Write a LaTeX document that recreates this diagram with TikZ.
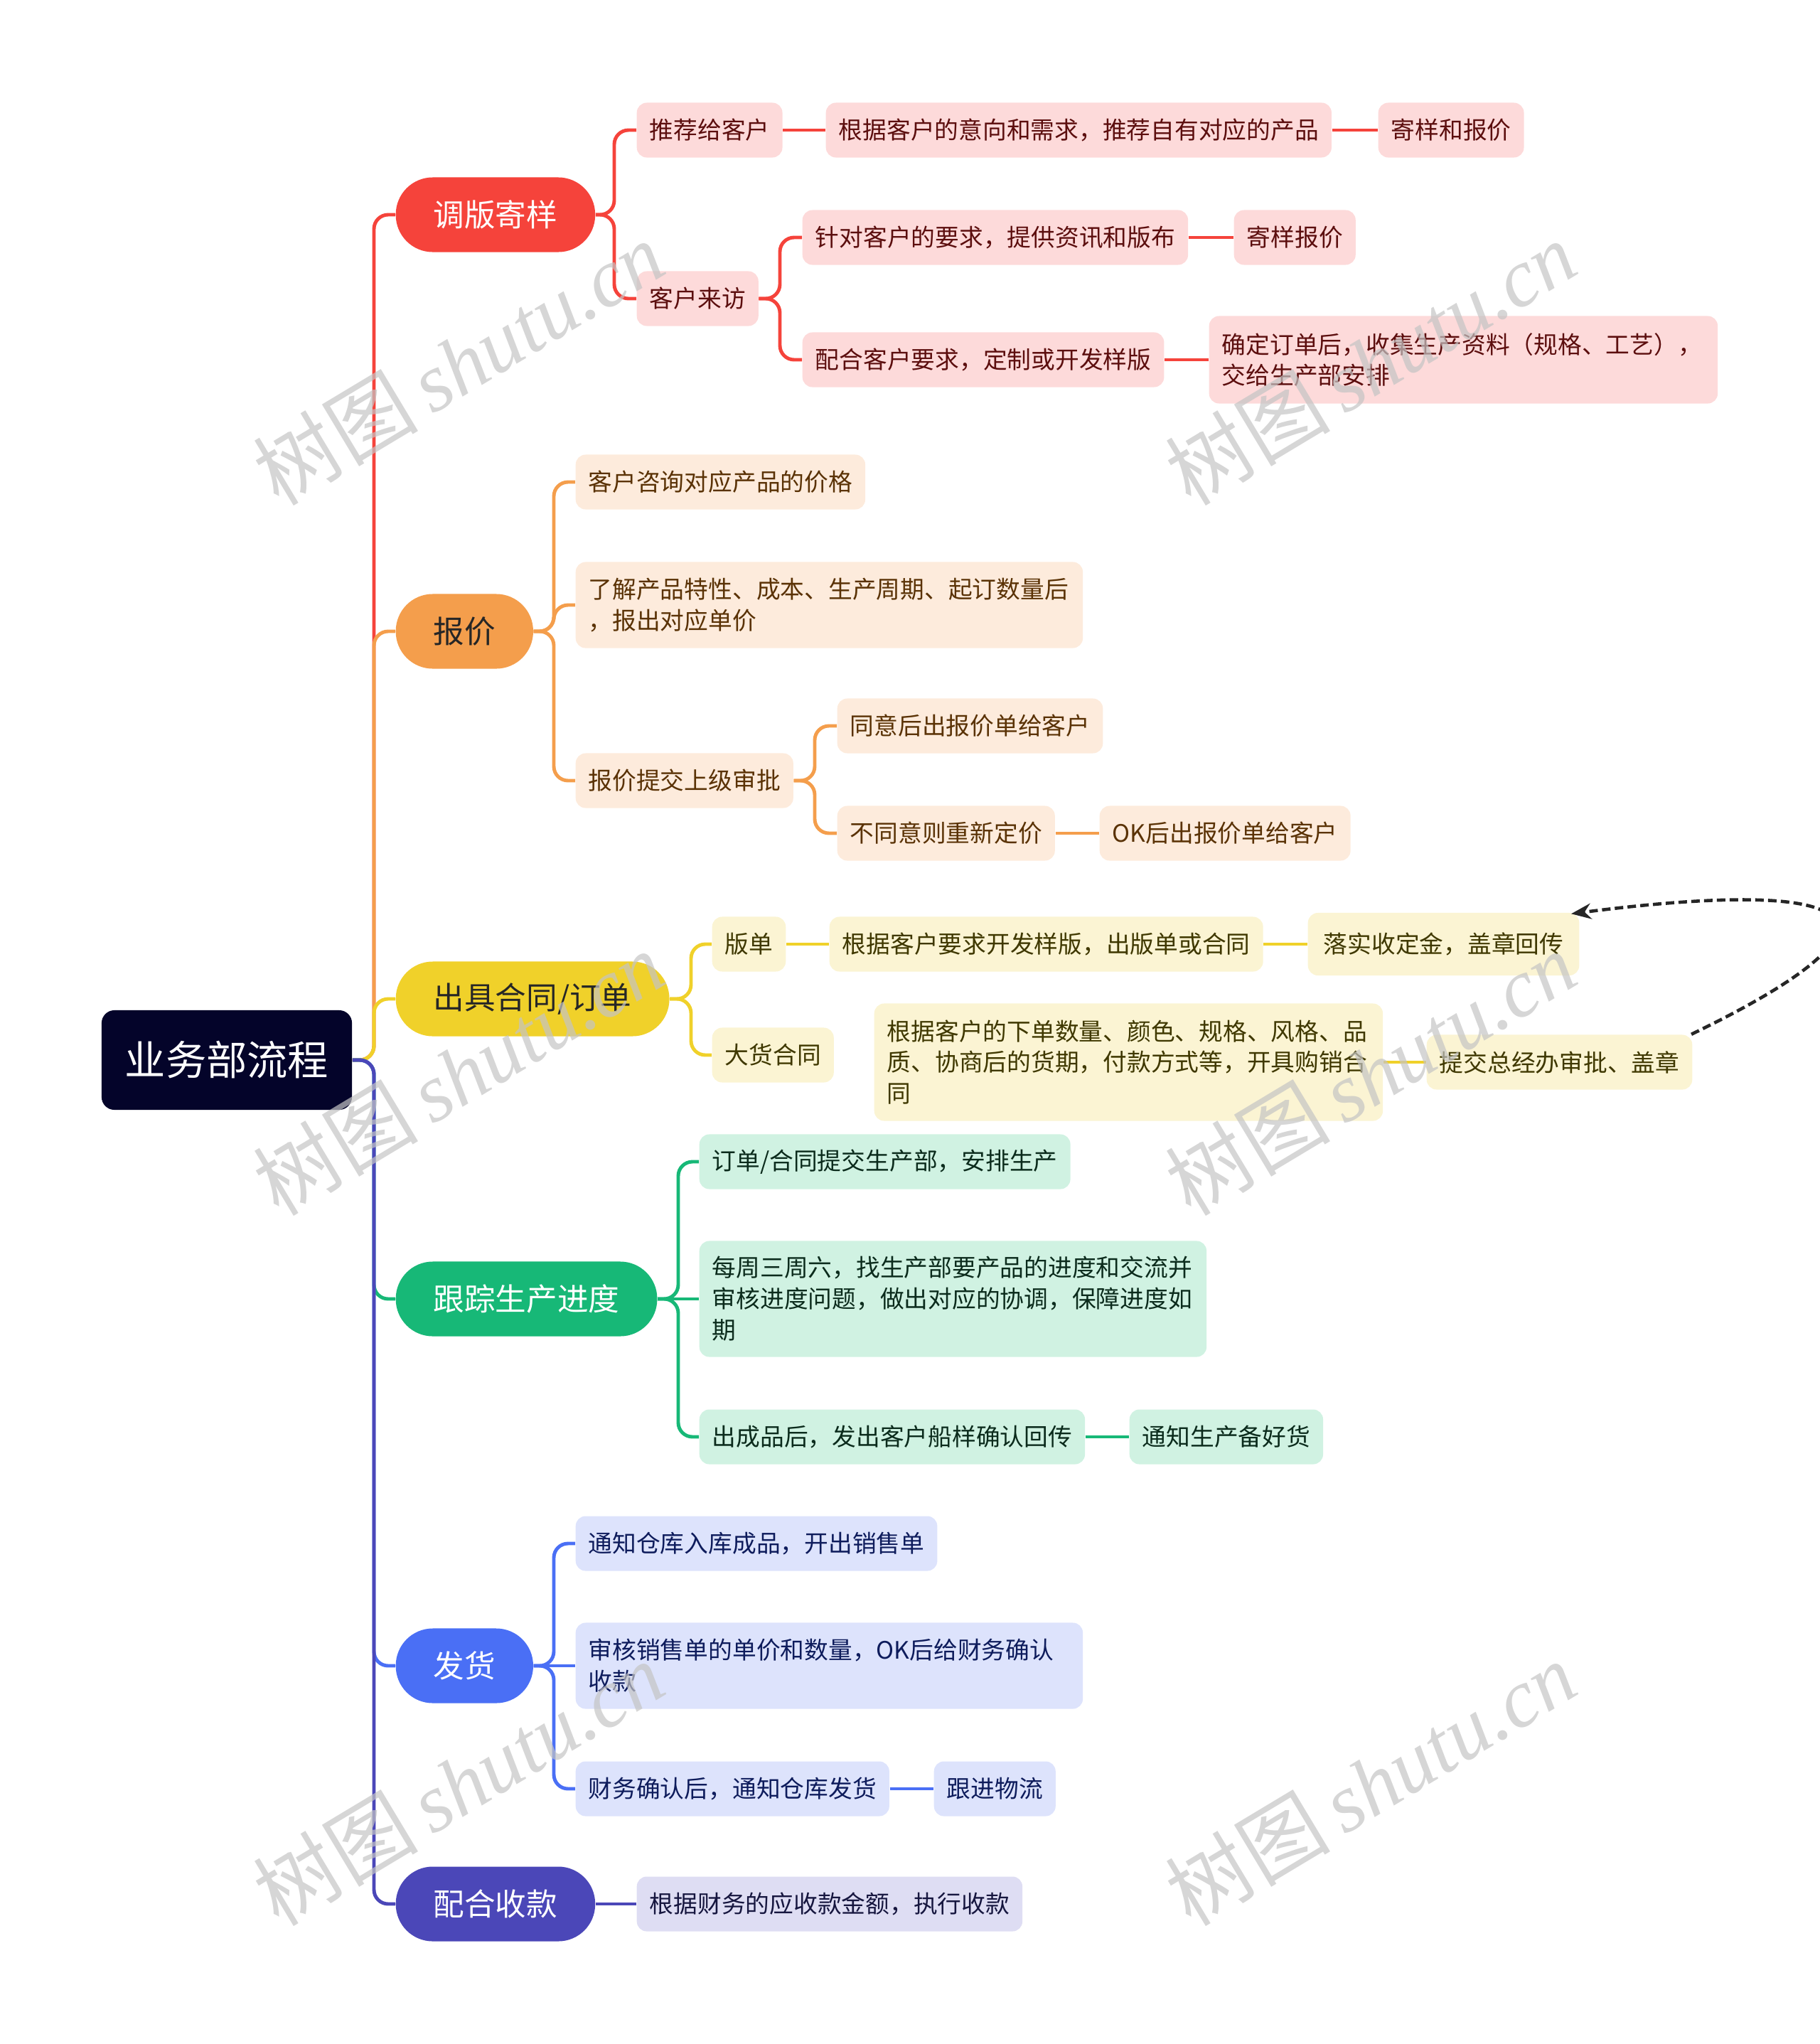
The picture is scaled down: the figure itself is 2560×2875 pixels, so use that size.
\documentclass[tikz,border=0pt]{standalone}
\usepackage{fontspec}
\setmainfont{Noto Sans CJK SC}
\newfontfamily\wmfont{Liberation Serif}
\usetikzlibrary{arrows.meta}
\definecolor{cR}{HTML}{F5433B}\definecolor{fR}{HTML}{FDDADA}\definecolor{tR}{HTML}{5C0E0E}
\definecolor{cO}{HTML}{F49E4C}\definecolor{fO}{HTML}{FDEBDC}\definecolor{tO}{HTML}{5A3205}
\definecolor{cY}{HTML}{F0D12A}\definecolor{fY}{HTML}{FBF4D3}\definecolor{tY}{HTML}{3F3800}
\definecolor{cG}{HTML}{17B877}\definecolor{fG}{HTML}{D0F2E2}\definecolor{tG}{HTML}{0B2B1C}
\definecolor{cB}{HTML}{4A6FF5}\definecolor{fB}{HTML}{DDE3FC}\definecolor{tB}{HTML}{0E1C5C}
\definecolor{cP}{HTML}{4B47B8}\definecolor{fP}{HTML}{DEDDF3}\definecolor{tP}{HTML}{16163F}
\definecolor{rootc}{HTML}{04042A}
\definecolor{wmc}{HTML}{C4C4C4}
\pgfdeclarelayer{bg}
\pgfsetlayers{bg,main}
\tikzset{
  lvl1/.style={rounded corners=0.52cm, minimum height=1.05cm, inner xsep=0.53cm, inner ysep=0pt, anchor=west, font=\fontsize{12.4}{15}\selectfont},
  leaf/.style={rounded corners=0.14cm, minimum height=0.77cm, inner xsep=0.18cm, inner ysep=0.08cm, anchor=west, align=left, font=\fontsize{9.6}{12.5}\selectfont},
  lR/.style={leaf, fill=fR, text=tR},
  lO/.style={leaf, fill=fO, text=tO},
  lY/.style={leaf, fill=fY, text=tY},
  lG/.style={leaf, fill=fG, text=tG},
  lB/.style={leaf, fill=fB, text=tB},
  lP/.style={leaf, fill=fP, text=tP},
  conn/.style={line width=1.4pt, rounded corners=0.2cm},
  wm/.style={text=wmc, opacity=0.7, font=\fontsize{33}{37}\selectfont, rotate=31},
}
\begin{document}
\begin{tikzpicture}[x=0.01cm,y=-0.01cm]
\useasboundingbox (0,0) rectangle (2560,2875);
% coordinates for elbows
\coordinate (trunk) at (526,0);
\coordinate (eR1) at (864,0);
\coordinate (eR2) at (1097,0);
\coordinate (eO1) at (779,0);
\coordinate (eO2) at (1146,0);
\coordinate (eY) at (972,0);
\coordinate (eG) at (954,0);
\coordinate (eB) at (779,0);
% root
\node[fill=rootc, text=white, rounded corners=0.18cm, minimum width=3.52cm, minimum height=1.4cm, inner sep=0pt, font=\fontsize{16.3}{19}\selectfont] (root) at (319,1491) {业务部流程};
% level 1
\node[lvl1, fill=cR, text=white] (t1) at (556,302) {调版寄样};
\node[lvl1, fill=cO, text=black!85] (t2) at (556,888) {报价};
\node[lvl1, fill=cY, text=black!85] (t3) at (556,1405) {出具合同/订单};
\node[lvl1, fill=cG, text=white] (t4) at (556,1827) {跟踪生产进度};
\node[lvl1, fill=cB, text=white] (t5) at (556,2343) {发货};
\node[lvl1, fill=cP, text=white] (t6) at (556,2678) {配合收款};
% red
\node[lR] (r1) at (895,183) {推荐给客户};
\node[lR] (r2) at (1161,183) {根据客户的意向和需求，推荐自有对应的产品};
\node[lR] (r3) at (1938,183) {寄样和报价};
\node[lR] (r4) at (895,420) {客户来访};
\node[lR] (r5) at (1128,334) {针对客户的要求，提供资讯和版布};
\node[lR] (r6) at (1735,334) {寄样报价};
\node[lR] (r7) at (1128,506) {配合客户要求，定制或开发样版};
\node[lR, text width=6.79cm, minimum height=1.23cm] (r8) at (1700,506) {确定订单后，收集生产资料（规格、工艺），\\交给生产部安排};
% orange
\node[lO] (o1) at (809,678) {客户咨询对应产品的价格};
\node[lO, text width=6.77cm, minimum height=1.21cm] (o2) at (809,851) {了解产品特性、成本、生产周期、起订数量后\\，报出对应单价};
\node[lO] (o3) at (809,1098) {报价提交上级审批};
\node[lO] (o4) at (1177,1021) {同意后出报价单给客户};
\node[lO] (o5) at (1177,1172) {不同意则重新定价};
\node[lO] (o6) at (1546,1172) {OK后出报价单给客户};
% yellow
\node[lY] (y1) at (1001,1328) {版单};
\node[lY] (y2) at (1166,1328) {根据客户要求开发样版，出版单或合同};
\node[lY, minimum height=0.88cm, inner xsep=0.22cm] (y3) at (1839,1328) {落实收定金，盖章回传};
\node[lY] (y4) at (1001,1484) {大货合同};
\node[lY, text width=6.79cm, minimum height=1.65cm] (y5) at (1229,1494) {根据客户的下单数量、颜色、规格、风格、品\\质、协商后的货期，付款方式等，开具购销合\\同};
\node[lY] (y6) at (2006,1494) {提交总经办审批、盖章};
% green
\node[lG] (g1) at (983,1634) {订单/合同提交生产部，安排生产};
\node[lG, text width=6.77cm, minimum height=1.63cm] (g2) at (983,1827) {每周三周六，找生产部要产品的进度和交流并\\审核进度问题，做出对应的协调，保障进度如\\期};
\node[lG] (g3) at (983,2021) {出成品后，发出客户船样确认回传};
\node[lG] (g4) at (1588,2021) {通知生产备好货};
% blue
\node[lB] (b1) at (809,2171) {通知仓库入库成品，开出销售单};
\node[lB, text width=6.77cm, minimum height=1.21cm] (b2) at (809,2343) {审核销售单的单价和数量，OK后给财务确认\\收款};
\node[lB] (b3) at (809,2516) {财务确认后，通知仓库发货};
\node[lB] (b4) at (1313,2516) {跟进物流};
% purple
\node[lP] (p1) at (895,2678) {根据财务的应收款金额，执行收款};

\begin{pgfonlayer}{bg}
% trunk
\draw[conn, cR] (root.east) -- (root.east -| trunk) |- (t1.west);
\draw[conn, cO] (root.east) -- (root.east -| trunk) |- (t2.west);
\draw[conn, cY] (root.east) -- (root.east -| trunk) |- (t3.west);
\draw[conn, cG] (root.east) -- (root.east -| trunk) |- (t4.west);
\draw[conn, cB] (root.east) -- (root.east -| trunk) |- (t5.west);
\draw[conn, cP] (root.east) -- (root.east -| trunk) |- (t6.west);
% red
\draw[conn, cR] (t1.east) -- (t1.east -| eR1) |- (r1.west);
\draw[conn, cR] (t1.east) -- (t1.east -| eR1) |- (r4.west);
\draw[conn, cR] (r1.east) -- (r2.west);
\draw[conn, cR] (r2.east) -- (r3.west);
\draw[conn, cR] (r4.east) -- (r4.east -| eR2) |- (r5.west);
\draw[conn, cR] (r4.east) -- (r4.east -| eR2) |- (r7.west);
\draw[conn, cR] (r5.east) -- (r6.west);
\draw[conn, cR] (r7.east) -- (r8.west);
% orange
\draw[conn, cO] (t2.east) -- (t2.east -| eO1) |- (o1.west);
\draw[conn, cO] (t2.east) -- (t2.east -| eO1) |- (o2.west);
\draw[conn, cO] (t2.east) -- (t2.east -| eO1) |- (o3.west);
\draw[conn, cO] (o3.east) -- (o3.east -| eO2) |- (o4.west);
\draw[conn, cO] (o3.east) -- (o3.east -| eO2) |- (o5.west);
\draw[conn, cO] (o5.east) -- (o6.west);
% yellow
\draw[conn, cY] (t3.east) -- (t3.east -| eY) |- (y1.west);
\draw[conn, cY] (t3.east) -- (t3.east -| eY) |- (y4.west);
\draw[conn, cY] (y1.east) -- (y2.west);
\draw[conn, cY] (y2.east) -- (y3.west);
\draw[conn, cY] (y5.east) -- (y6.west);
% green
\draw[conn, cG] (t4.east) -- (t4.east -| eG) |- (g1.west);
\draw[conn, cG] (t4.east) -- (g2.west);
\draw[conn, cG] (t4.east) -- (t4.east -| eG) |- (g3.west);
\draw[conn, cG] (g3.east) -- (g4.west);
% blue
\draw[conn, cB] (t5.east) -- (t5.east -| eB) |- (b1.west);
\draw[conn, cB] (t5.east) -- (b2.west);
\draw[conn, cB] (t5.east) -- (t5.east -| eB) |- (b3.west);
\draw[conn, cB] (b3.east) -- (b4.west);
% purple
\draw[conn, cP] (t6.east) -- (p1.west);
\end{pgfonlayer}

% dashed relation arrow
\draw[line width=1.3pt, dash pattern=on 0.12cm off 0.06cm, black!85, -{Stealth[length=0.28cm, width=0.22cm]}]
  ([xshift=-0.02cm]y6.north east) .. controls (2700,1300) and (2640,1230) .. ([xshift=-0.12cm,yshift=-0.02cm]y3.north east);

% watermarks
\foreach \wx/\wy [count=\i] in {645/510, 1928/510, 645/1509, 1928/1509, 645/2508, 1928/2508}
  \node[wm] (wm\i) at (\wx,\wy) {树图\,{\wmfont\itshape shutu.cn}};
\end{tikzpicture}
\end{document}
